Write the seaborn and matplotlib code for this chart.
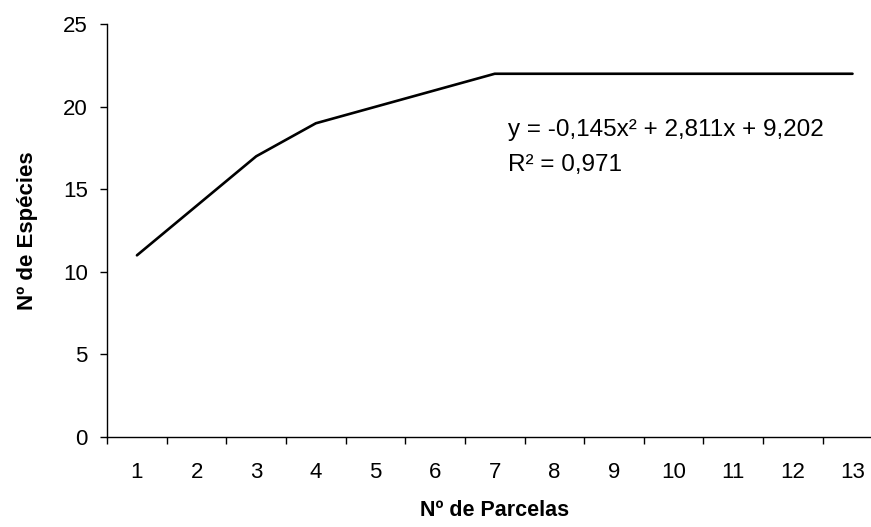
import numpy as np
import pandas as pd
import matplotlib
matplotlib.use("Agg")
import matplotlib.pyplot as plt
import seaborn as sns

# dados da curva espécie-área
parcelas = ["1", "2", "3", "4", "5", "6", "7", "8", "9", "10", "11", "12", "13"]
especies = [11, 14, 17, 19, 20, 21, 22, 22, 22, 22, 22, 22, 22]
equacao = "y = -0,145x² + 2,811x + 9,202"
r2 = "R² = 0,971"

sns.set_theme(style="ticks")
plt.rcParams['font.family'] = ['Liberation Sans', 'DejaVu Sans']
plt.rcParams['text.color'] = 'black'
plt.rcParams['axes.labelcolor'] = 'black'

df = pd.DataFrame({'pos': np.arange(len(parcelas)), 'especies': especies})

fig = plt.figure(figsize=(8.71, 5.27), dpi=100)
ax = fig.add_axes([0.123, 0.171, 0.89, 0.783])

sns.lineplot(x='pos', y='especies', data=df, ax=ax, color='black', linewidth=1.9)

ax.set_xlim(-0.5, len(parcelas) - 0.5)
ax.set_ylim(0, 25)
ax.set_yticks([0, 5, 10, 15, 20, 25])
ax.set_xticks(np.arange(len(parcelas)))
ax.set_xticklabels(parcelas)
ax.set_xticks(np.arange(-0.5, len(parcelas)), minor=True)
ax.tick_params(axis='x', which='major', length=0, pad=18, labelsize=16, colors='black')
ax.tick_params(axis='x', which='minor', length=5, width=1, direction='out', color='black')
ax.tick_params(axis='y', length=5, width=1, direction='out', pad=9, labelsize=16, colors='black')

for s in ['top', 'right']:
    ax.spines[s].set_visible(False)
for s in ['left', 'bottom']:
    ax.spines[s].set_color('black')
    ax.spines[s].set_linewidth(1)

ax.set_xlabel("Nº de Parcelas", fontsize=15.5, fontweight='bold', labelpad=12, color='black')
ax.set_ylabel("Nº de Espécies", fontsize=16, fontweight='bold', labelpad=18, color='black')

ax.text(0.517, 0.743, equacao, transform=ax.transAxes, fontsize=17.5, va='center', ha='left', color='black')
ax.text(0.517, 0.659, r2, transform=ax.transAxes, fontsize=17.5, va='center', ha='left', color='black')

fig.savefig("out.png", dpi=100)
